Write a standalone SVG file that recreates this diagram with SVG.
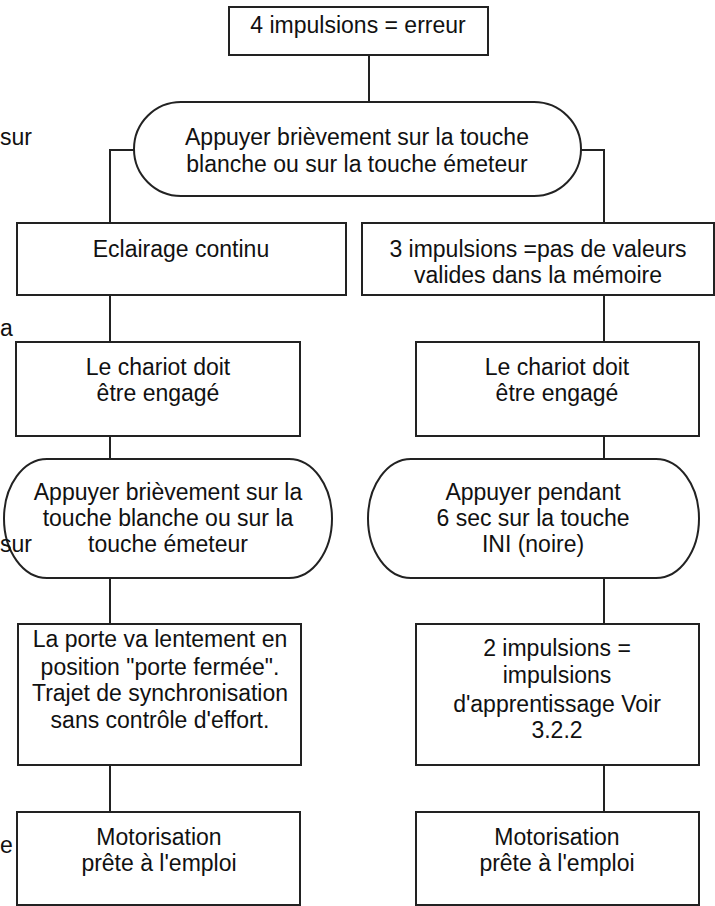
<svg xmlns="http://www.w3.org/2000/svg" width="715" height="906" viewBox="0 0 715 906">
<style>
.n{fill:#fff;stroke:#222;stroke-width:2}
.c{fill:none;stroke:#222;stroke-width:2}
text{font-family:"Liberation Sans",Arial,sans-serif;font-size:23px;fill:#111}
.m{text-anchor:middle}
</style>
<rect width="715" height="906" fill="#fff"/>
<g id="connectors">
<path class="c" d="M369,55V102"/>
<path class="c" d="M134,150H110V223"/>
<path class="c" d="M581,150H604V223"/>
<path class="c" d="M110,295V342M604,295V342"/>
<path class="c" d="M110,436V459M604,436V459"/>
<path class="c" d="M110,578V624M604,578V624"/>
<path class="c" d="M110,765V812M604,765V812"/>
</g>
<g id="n1"><rect class="n" x="229" y="7" width="259" height="48"/>
<text class="m" x="358" y="33">4 impulsions = erreur</text></g>
<g id="n2"><rect class="n" x="134" y="102" width="447" height="94" rx="47" ry="47"/>
<text class="m" x="357" y="145">Appuyer brièvement sur la touche</text>
<text class="m" x="357" y="172">blanche ou sur la touche émeteur</text></g>
<g id="n3"><rect class="n" x="17" y="223" width="329" height="72"/>
<text class="m" x="181" y="257">Eclairage continu</text></g>
<g id="n4"><rect class="n" x="362" y="223" width="352" height="72"/>
<text class="m" x="538" y="257">3 impulsions =pas de valeurs</text>
<text class="m" x="538" y="283">valides dans la mémoire</text></g>
<g id="n5"><rect class="n" x="16" y="342" width="284" height="94"/>
<text class="m" x="158" y="375">Le chariot doit</text>
<text class="m" x="158" y="401">être engagé</text></g>
<g id="n6"><rect class="n" x="416" y="342" width="283" height="94"/>
<text class="m" x="557" y="375">Le chariot doit</text>
<text class="m" x="557" y="401">être engagé</text></g>
<g id="n7"><rect class="n" x="4" y="459" width="328" height="119" rx="43" ry="59.5"/>
<text class="m" x="168" y="500">Appuyer brièvement sur la</text>
<text class="m" x="168" y="526">touche blanche ou sur la</text>
<text class="m" x="168" y="552">touche émeteur</text></g>
<g id="n8"><rect class="n" x="368" y="459" width="331" height="119" rx="43" ry="59.5"/>
<text class="m" x="533" y="500">Appuyer pendant</text>
<text class="m" x="533" y="526">6 sec sur la touche</text>
<text class="m" x="533" y="552">INI (noire)</text></g>
<g id="n9"><rect class="n" x="18" y="624" width="283" height="141"/>
<text class="m" x="160" y="647">La porte va lentement en</text>
<text class="m" x="160" y="675">position "porte fermée".</text>
<text class="m" x="160" y="701">Trajet de synchronisation</text>
<text class="m" x="160" y="728">sans contrôle d'effort.</text></g>
<g id="n10"><rect class="n" x="416" y="624" width="283" height="141"/>
<text class="m" x="557" y="656">2 impulsions =</text>
<text class="m" x="557" y="683">impulsions</text>
<text class="m" x="557" y="712">d'apprentissage Voir</text>
<text class="m" x="557" y="738">3.2.2</text></g>
<g id="n11"><rect class="n" x="17" y="812" width="283" height="93"/>
<text class="m" x="159" y="845">Motorisation</text>
<text class="m" x="159" y="871">prête à l'emploi</text></g>
<g id="n12"><rect class="n" x="416" y="812" width="283" height="93"/>
<text class="m" x="557" y="845">Motorisation</text>
<text class="m" x="557" y="871">prête à l'emploi</text></g>
<g id="margin">
<text x="0" y="145">sur</text>
<text x="0" y="336">a</text>
<text x="0" y="552">sur</text>
<text x="0" y="853">e</text>
</g>
</svg>
